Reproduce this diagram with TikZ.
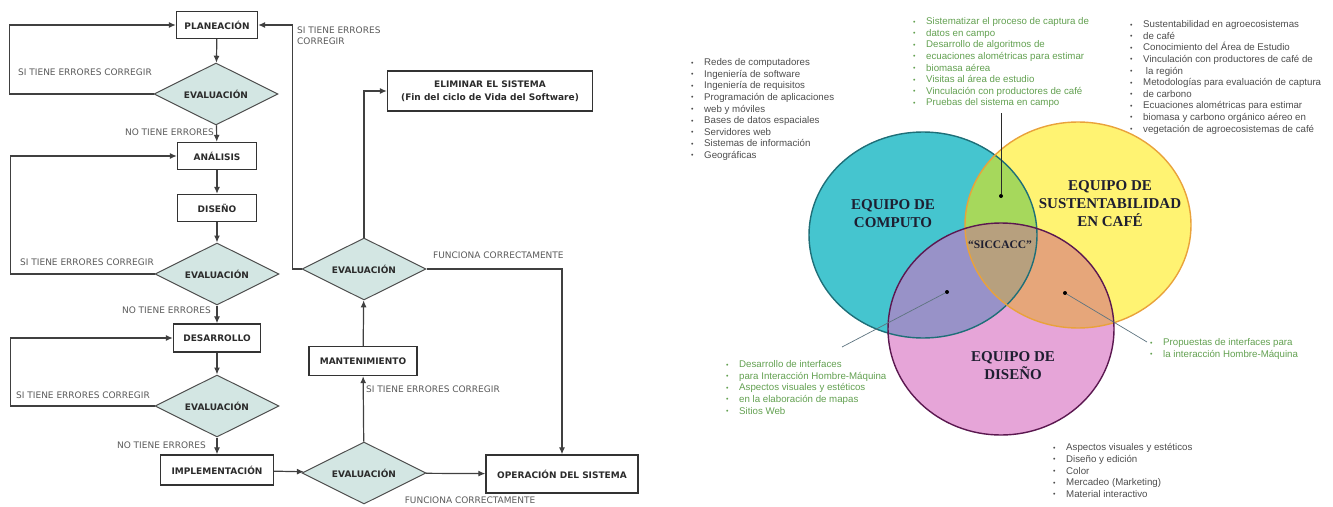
\documentclass[tikz,border=0pt]{standalone}
\usepackage{fontspec}
\setmainfont{Liberation Sans}
\newfontfamily\flowfont{DejaVu Sans}
\newfontfamily\vennfont{Liberation Serif}
\usepackage{xcolor}
\definecolor{cLine}{HTML}{404040}
\definecolor{cBox}{HTML}{333333}
\definecolor{cText}{HTML}{2B2B2B}
\definecolor{cLbl}{HTML}{5A5A5A}
\definecolor{cDia}{HTML}{D3E6E3}
\definecolor{cDiaLine}{HTML}{4F4F4F}
\definecolor{cGrayTxt}{HTML}{4D4D4D}
\definecolor{cGreenTxt}{HTML}{62A050}
\definecolor{cCyan}{HTML}{45C5CF}
\definecolor{cCyanD}{HTML}{1E6F78}
\definecolor{cYellow}{HTML}{FFF372}
\definecolor{cYellowD}{HTML}{E9A23B}
\definecolor{cPink}{HTML}{E6A5D8}
\definecolor{cPinkD}{HTML}{5B1850}
\definecolor{cGreen}{HTML}{A6D85C}
\definecolor{cViolet}{HTML}{9892C8}
\definecolor{cOrange}{HTML}{E6A67A}
\definecolor{cBrown}{HTML}{B7A07E}
\definecolor{cTeam}{HTML}{1E1E30}
\definecolor{cLeader}{HTML}{5E7480}
\usepackage{tikz}
\usetikzlibrary{positioning,arrows.meta,shapes.geometric}
\tikzset{
  node-box/.style={draw=cBox,line width=1.3pt,fill=white,minimum height=27pt,
    inner sep=2pt,align=center,text=cText,
    font=\flowfont\bfseries\fontsize{9}{13}\selectfont},
  node-eval/.style={diamond,aspect=2,draw=cDiaLine,line width=1pt,fill=cDia,
    minimum width=124pt,minimum height=62pt,inner sep=1pt,text=cText,
    font=\flowfont\bfseries\fontsize{9}{11}\selectfont},
  arrow/.style={-{Latex[length=7pt,width=6pt]},line width=1.2pt,draw=cLine},
  lbl/.style={inner sep=0pt,text=cLbl,align=left,
    font=\flowfont\fontsize{9}{11}\selectfont},
  list-gray/.style={anchor=north west,inner sep=0pt,align=left,text=cGrayTxt,
    font=\fontsize{9.7}{11.6}\selectfont},
  list-green/.style={list-gray,text=cGreenTxt},
  team/.style={align=center,text=cTeam,
    font=\vennfont\bfseries\fontsize{15}{18}\selectfont},
  dot/.style={circle,fill=black,inner sep=0pt,minimum size=4pt},
  leader/.style={line width=0.7pt,draw=cLeader},
}
% item de lista con viñeta
\newcommand{\li}[1]{\makebox[13pt][l]{\raisebox{0.6pt}{\scriptsize •}}#1}
% contornos de los tres equipos
\newcommand{\vComp}{(923,235) ellipse [x radius=114pt,y radius=103pt]}
\newcommand{\vSust}{(1078,225) ellipse [x radius=113pt,y radius=103pt]}
\newcommand{\vDis}{(1001,329) ellipse [x radius=113pt,y radius=106pt]}

\begin{document}
\begin{tikzpicture}[x=1pt,y=-1pt]
  \useasboundingbox (0,0) rectangle (1333,506);

  % ciclo de vida
  \node[node-box,minimum width=81pt]                     (plan) at (217,25)  {PLANEACIÓN};
  \node[node-eval]                                       (ev1)  at (216,94)  {EVALUACIÓN};
  \node[node-box,minimum width=79pt]                     (ana)  at (217,156) {ANÁLISIS};
  \node[node-box,minimum width=79pt]                     (dis)  at (217,208) {DISEÑO};
  \node[node-eval]                                       (ev2)  at (217,274) {EVALUACIÓN};
  \node[node-box,minimum width=87pt,minimum height=28pt] (des)  at (217,338) {DESARROLLO};
  \node[node-eval]                                       (ev3)  at (217,406) {EVALUACIÓN};
  \node[node-box,minimum width=113pt,minimum height=30pt] (imp) at (217,470) {IMPLEMENTACIÓN};
  \node[node-eval]                                       (ev4)  at (364,473) {EVALUACIÓN};
  \node[node-box,minimum width=152pt,minimum height=38pt] (ope) at (562,474) {OPERACIÓN DEL SISTEMA};
  \node[node-box,minimum width=108pt,minimum height=29pt] (man) at (363,361) {MANTENIMIENTO};
  \node[node-eval]                                       (ev5)  at (364,269) {EVALUACIÓN};
  \node[node-box,minimum width=205pt,minimum height=40pt] (eli) at (490,91)
    {ELIMINAR EL SISTEMA\\(Fin del ciclo de Vida del Software)};

  \node[lbl,anchor=west] (si1) at (18,72)  {SI TIENE ERRORES CORREGIR};
  \node[lbl,anchor=east] (no1) at (214,132) {NO TIENE ERRORES};
  \node[lbl,anchor=west] (si2) at (20,262) {SI TIENE ERRORES CORREGIR};
  \node[lbl,anchor=east] (no2) at (211,310) {NO TIENE ERRORES};
  \node[lbl,anchor=west] (si3) at (16,395) {SI TIENE ERRORES CORREGIR};
  \node[lbl,anchor=east] (no3) at (206,445) {NO TIENE ERRORES};
  \node[lbl,anchor=west] (si4) at (366,389) {SI TIENE ERRORES CORREGIR};
  \node[lbl]             (fc1) at (470,500) {FUNCIONA CORRECTAMENTE};
  \node[lbl,anchor=west] (fc2) at (433,255) {FUNCIONA CORRECTAMENTE};
  \node[lbl,anchor=north west] (si5) at (297,27) {SI TIENE ERRORES\\CORREGIR};

  \draw[arrow] (plan) -- (ev1);
  \draw[arrow] (ev1.west) -- ++(-144,0) |- (plan.west);
  \draw[arrow] (ev1) -- (ana);
  \draw[arrow] (ana) -- (dis);
  \draw[arrow] (dis) -- (ev2);
  \draw[arrow] (ev2.west) -- ++(-144,0) |- (ana.west);
  \draw[arrow] (ev2) -- (des);
  \draw[arrow] (des) -- (ev3);
  \draw[arrow] (ev3.west) -- ++(-144,0) |- (des.west);
  \draw[arrow] (ev3) -- (imp);
  \draw[arrow] (imp) -- (ev4);
  \draw[arrow] (ev4) -- (ope);
  \draw[arrow] (ev4) -- (man);
  \draw[arrow] (man) -- (ev5);
  \draw[arrow] (ev5.east) -| (ope.north);
  \draw[arrow] (ev5.west) -- ++(-9,0) |- (plan.east);
  \draw[arrow] (ev5.north) |- (eli.west);

  % equipos del proyecto
  \fill[cCyan] \vComp;
  \fill[cYellow] \vSust;
  \fill[cPink] \vDis;
  \begin{scope} \clip \vComp; \fill[cGreen] \vSust; \end{scope}
  \begin{scope} \clip \vComp; \fill[cViolet] \vDis; \end{scope}
  \begin{scope} \clip \vSust; \fill[cOrange] \vDis; \end{scope}
  \begin{scope} \clip \vComp; \clip \vSust; \fill[cBrown] \vDis; \end{scope}
  \draw[line width=1.4pt,cCyanD] \vComp;
  \draw[line width=1.4pt,cYellowD] \vSust;
  \draw[line width=1.4pt,cPinkD] \vDis;

  \node[team] (tComp) at (893,214) {EQUIPO DE\\COMPUTO};
  \node[team] (tSust) at (1110,204) {EQUIPO DE\\SUSTENTABILIDAD\\EN CAFÉ};
  \node[team] (tDis)  at (1013,366) {EQUIPO DE\\DISEÑO};
  \node[team,font=\vennfont\bfseries\fontsize{11.5}{14}\selectfont] (tSic) at (1000,245) {“SICCACC”};

  \node[list-gray] (lstComp) at (691,58.5) {\li{Redes de computadores}\\\li{Ingeniería de software}\\
    \li{Ingeniería de requisitos}\\\li{Programación de aplicaciones}\\\li{web y móviles}\\
    \li{Bases de datos espaciales}\\\li{Servidores web}\\\li{Sistemas de información}\\
    \li{Geográficas}};
  \node[list-green] (lstSic) at (913,17.5) {\li{Sistematizar el proceso de captura de}\\
    \li{datos en campo}\\\li{Desarrollo de algoritmos de}\\
    \li{ecuaciones alométricas para estimar}\\\li{biomasa aérea}\\
    \li{Visitas al área de estudio}\\\li{Vinculación con productores de café}\\
    \li{Pruebas del sistema en campo}};
  \node[list-gray] (lstCafe) at (1130,20.5) {\li{Sustentabilidad en agroecosistemas}\\
    \li{de café}\\\li{Conocimiento del Área de Estudio}\\
    \li{Vinculación con productores de café de}\\\li{ la región}\\
    \li{Metodologías para evaluación de captura}\\\li{de carbono}\\
    \li{Ecuaciones alométricas para estimar}\\\li{biomasa y carbono orgánico aéreo en}\\
    \li{vegetación de agroecosistemas de café}};
  \node[list-green] (lstInt) at (726,360.5) {\li{Desarrollo de interfaces}\\
    \li{para Interacción Hombre-Máquina}\\\li{Aspectos visuales y estéticos}\\
    \li{en la elaboración de mapas}\\\li{Sitios Web}};
  \node[list-green] (lstProp) at (1150,338.5) {\li{Propuestas de interfaces para}\\
    \li{la interacción Hombre-Máquina}};
  \node[list-gray] (lstDis) at (1053,443.5) {\li{Aspectos visuales y estéticos}\\
    \li{Diseño y edición}\\\li{Color}\\\li{Mercadeo (Marketing)}\\\li{Material interactivo}};

  \node[dot] (dGreen)  at (1001,196) {};
  \node[dot] (dViolet) at (947,292)  {};
  \node[dot] (dOrange) at (1065,293) {};
  \coordinate (eGreen)  at (1001,113);
  \coordinate (eViolet) at (842,347);
  \coordinate (eOrange) at (1147,342);
  \draw[leader,draw=cText] (dGreen) -- (eGreen);
  \draw[leader] (dViolet) -- (eViolet);
  \draw[leader] (dOrange) -- (eOrange);
\end{tikzpicture}
\end{document}
